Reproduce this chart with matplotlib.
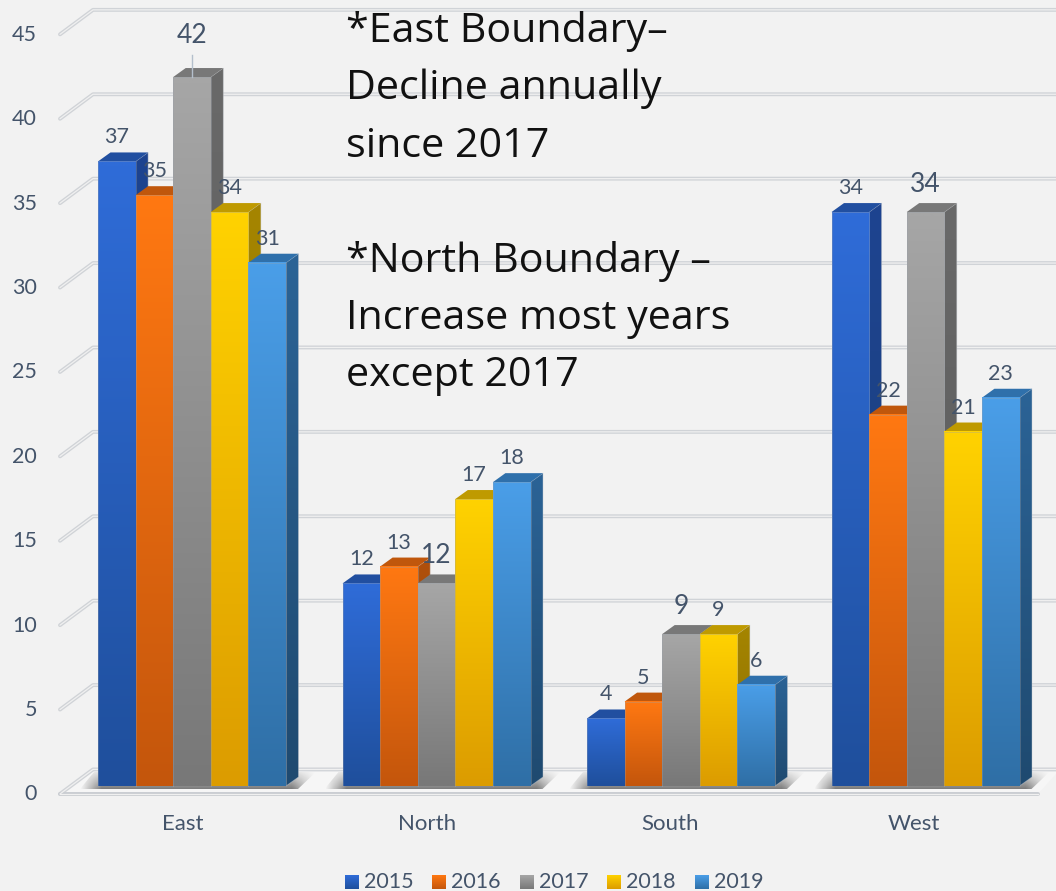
import numpy as np
import matplotlib
matplotlib.use("Agg")
import matplotlib.pyplot as plt
from matplotlib.colors import to_rgb
from matplotlib.patches import Polygon

W, H = 1056, 891
BG = "#f2f2f2"
TXT = "#44546a"

categories = ["East", "North", "South", "West"]
years = ["2015", "2016", "2017", "2018", "2019"]
s2015 = [37, 12, 4, 34]
s2016 = [35, 13, 5, 22]
s2017 = [42, 12, 9, 34]
s2018 = [34, 17, 9, 21]
s2019 = [31, 18, 6, 23]
series = [s2015, s2016, s2017, s2018, s2019]
y_ticks = [0, 5, 10, 15, 20, 25, 30, 35, 40, 45]

# front top, front bottom, top face, side top, side bottom
colors = [
    ("#2f6cd8", "#1f4f9c", "#214fa0", "#1e4490", "#1a3f78"),
    ("#ff7812", "#c4560c", "#c0570c", "#b0500c", "#94440a"),
    ("#a6a6a6", "#787878", "#787878", "#696969", "#575757"),
    ("#ffd200", "#dc9c00", "#bf9a00", "#a58500", "#8a6c00"),
    ("#4a9ee8", "#2f6fa6", "#2f70ab", "#2b6396", "#1f4a70"),
]

# px scale of the picture: one category = 244.5 px, one unit = 16.88 px
PX_X, PX_Y = 244.5, 16.88
X0, Y0 = 192.0, 786.0   # px position of x=0, y=0
BAR_W = 37.6 / PX_X
DX, DY = 12.5 / PX_X, 9.0 / PX_Y


def xd(px):
    return (px - X0) / PX_X


def yd(px):
    return (Y0 - px) / PX_Y


fig = plt.figure(figsize=(W / 100, H / 100), dpi=100, facecolor=BG)
ax = fig.add_axes([0, 0, 1, 1])
ax.set_axis_off()
plt.rcParams["font.family"] = ["Lato", "DejaVu Sans"]


def grad(x0, x1, y0, y1, top, bottom, clip=None, z=3):
    c = np.linspace(to_rgb(top), to_rgb(bottom), 64)[:, None, :]
    im = ax.imshow(c, extent=(x0, x1, y0, y1), origin="upper", aspect="auto", zorder=z,
                   interpolation="bilinear")
    if clip is not None:
        poly = Polygon(clip, transform=ax.transData, facecolor="none", edgecolor="none")
        ax.add_patch(poly)
        im.set_clip_path(poly)
    return im


# floor and walls
WALL_X, WALL_Y = 33 / PX_X, 24.5 / PX_Y
back_l, right = xd(93), xd(1060)
front_l, front_r = xd(60), xd(1038)
floor = [(front_l, -WALL_Y + 0.98), (front_r, -WALL_Y + 0.98), (right, 0.98), (back_l, 0.98)]
ax.add_patch(Polygon(floor, facecolor="#f6f6f6", edgecolor="none", zorder=0.5))

for v in y_ticks:
    yb = v + 0.98
    xs = [front_l, back_l, right]
    ys = [yb - WALL_Y, yb, yb]
    ax.plot(xs, ys, color="#d0d3d7", lw=2.8, zorder=1, solid_capstyle="round", solid_joinstyle="round")
    ax.plot(xs, ys, color="#f0f0f0", lw=0.9, zorder=1.1, solid_capstyle="round")
    ax.text(xd(37), yd(794.5) + v, str(v), ha="right", va="center", fontsize=15.5, color=TXT)
xs = [front_l, front_r]
yb = 0.98 - WALL_Y
ax.plot(xs, [yb, yb], color="#c9ccd1", lw=2.8, zorder=1, solid_capstyle="round")
ax.plot(xs, [yb, yb], color="#f0f0f0", lw=0.9, zorder=1.1)

# bars
for g, cat in enumerate(categories):
    left = g - 2.5 * BAR_W
    # floor shadow behind each group
    nx, ny = 200, 30
    fade = np.interp(np.linspace(0, 1, nx), [0, 0.09, 0.9, 1], [0, 1, 1, 0])
    alpha = fade[None, :] * np.linspace(0.1, 0.5, ny)[:, None]
    rgba = np.zeros((ny, nx, 4))
    rgba[..., 3] = alpha
    sx0, sx1 = left - 18 / PX_X, left + 5 * BAR_W + 30 / PX_X
    sy0, sy1 = -3 / PX_Y, 14 / PX_Y
    shadow = ax.imshow(rgba, extent=(sx0, sx1, sy0, sy1), origin="upper", aspect="auto", zorder=1.5)
    clip = Polygon([(sx0, sy0), (sx1 - 18 / PX_X, sy0), (sx1, sy1), (sx0 + 14 / PX_X, sy1)],
                   transform=ax.transData, facecolor="none", edgecolor="none")
    ax.add_patch(clip)
    shadow.set_clip_path(clip)

    for i, vals in enumerate(series):
        v = vals[g]
        x0 = left + i * BAR_W
        x1 = x0 + BAR_W
        z = 3 + i * 0.1
        ftop, fbot, ctop, stop, sbot = colors[i]
        side = [(x1, 0), (x1 + DX, DY), (x1 + DX, v + DY), (x1, v)]
        top = [(x0, v), (x1, v), (x1 + DX, v + DY), (x0 + DX, v + DY)]
        grad(x1, x1 + DX, 0, v + DY, stop, sbot, clip=side, z=z)
        ax.add_patch(Polygon(side, facecolor="none", edgecolor="#c4c8ce", lw=0.6, alpha=0.5, zorder=z + 0.01))
        ax.add_patch(Polygon(top, facecolor=ctop, edgecolor="none", zorder=z + 0.02))
        grad(x0, x1, 0, v, ftop, fbot, z=z + 0.03)
        ax.plot([x0, x0, x1, x1], [0, v, v, 0], color="#9aa1ab", lw=0.6, alpha=0.4, zorder=z + 0.04)

        # 2017 labels are bigger and sit higher
        big = i == 2
        gap = 28 if big else 24
        fs = 19 if big else 15.5
        if v == 42:
            gap = 42
            ax.plot([x0 + BAR_W / 2] * 2, [v, v + 22 / PX_Y], color="#b4bfcc", lw=1, zorder=z + 0.05)
        ax.text(x0 + BAR_W / 2, v + gap / PX_Y, str(v), ha="center", va="center",
                fontsize=fs, color=TXT, zorder=6)

    ax.text(xd(183 + 243.7 * g), yd(824), cat, ha="center", va="center", fontsize=16, color=TXT)

# legend
leg_sw = [345, 432, 520, 607, 695]
for i, yr in enumerate(years):
    sx = xd(leg_sw[i])
    grad(sx, sx + 14 / PX_X, yd(889), yd(875), colors[i][0], colors[i][1], z=3)
    ax.text(sx + 19 / PX_X, yd(882), yr, ha="left", va="center", fontsize=15.5, color=TXT)

note = ("*East Boundary\u2013\nDecline annually\nsince 2017\n\n"
        "*North Boundary \u2013\nIncrease most years\nexcept 2017")
ax.text(xd(346), yd(11), note, ha="left", va="top", fontsize=29.7, color="#111111", linespacing=1.55,
        family=["Open Sans", "DejaVu Sans"], zorder=8)

ax.set_xlim(xd(0), xd(W))
ax.set_ylim(yd(H), yd(0))

fig.savefig("out.png", dpi=100, facecolor=BG)
